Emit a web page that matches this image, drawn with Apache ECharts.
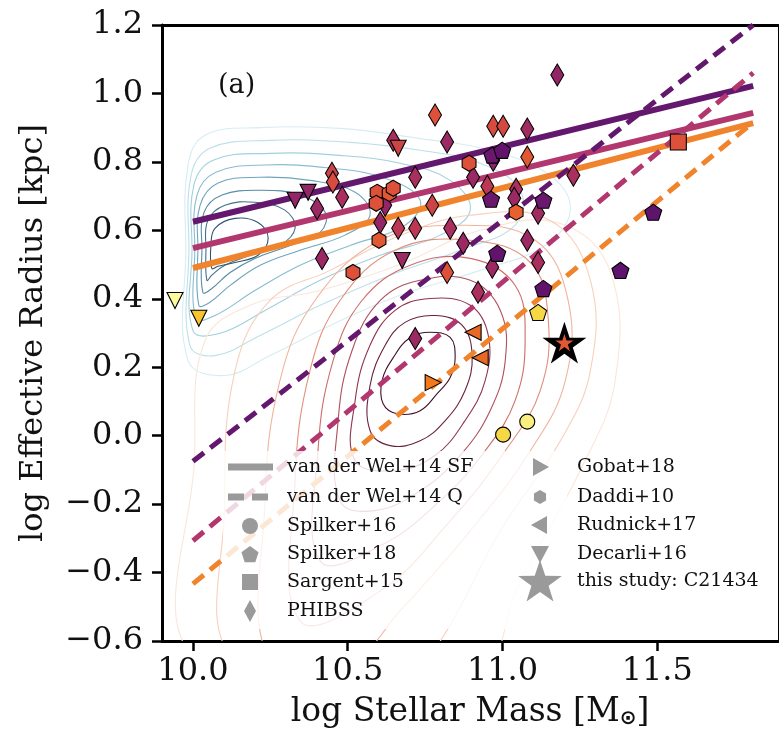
<!DOCTYPE html>
<html>
<head>
<meta charset="utf-8">
<script src="https://cdn.jsdelivr.net/npm/echarts@6/dist/echarts.min.js"></script>
<style>
html,body{margin:0;padding:0;background:#fff;}
#chart{width:779px;height:737px;}
</style>
</head>
<body>
<div id="chart"></div>
<script>
// ---- data ----
var xTicks = [10.0, 10.5, 11.0, 11.5];

// van der Wel+14 relations (end points)
var fitX = [10.0, 11.81];
var sfHigh = [0.625, 1.022];
var sfMid = [0.548, 0.943];
var sfLow = [0.49, 0.913];
var qHigh = [-0.075, 1.20];
var qMid = [-0.307, 1.06];
var qLow = [-0.433, 0.916];

// PHIBSS (diamonds)
var phibssX = [11.177,10.782,10.821,10.647,10.970,11.002,11.080,11.080,10.970,10.718,10.905,10.951,11.044,11.038,11.229,10.773,10.621,10.605,10.663,10.718,10.831,10.873,11.080,11.115,10.967,11.115,10.821,10.921,10.718,10.449,10.452,10.482,10.401,10.417];
var phibssY = [1.054,0.937,0.858,0.863,0.904,0.904,0.896,0.814,0.805,0.755,0.755,0.729,0.720,0.694,0.761,0.673,0.673,0.623,0.606,0.606,0.606,0.562,0.571,0.650,0.492,0.506,0.477,0.419,0.284,0.767,0.741,0.697,0.664,0.518];
var phibssZ = [0.40,0.60,0.42,0.45,0.58,0.57,0.43,0.62,0.38,0.45,0.42,0.50,0.45,0.42,0.45,0.55,0.40,0.40,0.50,0.50,0.45,0.42,0.42,0.43,0.42,0.45,0.60,0.45,0.42,0.55,0.58,0.45,0.42,0.42];

// Daddi+10 (hexagons)
var daddiX = [10.595,10.634,10.592,10.647,10.601,10.517,10.892,11.044];
var daddiY = [0.711,0.708,0.679,0.723,0.571,0.477,0.796,0.653];
var daddiZ = [0.60,0.62,0.60,0.60,0.62,0.60,0.60,0.64];

// Spilker+18 (pentagons)
var spilk18X = [10.967,10.999,10.963,11.132,10.983,11.132,11.381,11.487,11.115];
var spilk18Y = [0.820,0.834,0.691,0.688,0.533,0.430,0.483,0.653,0.360];
var spilk18Z = [0.30,0.28,0.30,0.30,0.28,0.28,0.27,0.27,0.90];

// Spilker+16 (circles)
var spilk16X = [11.08, 11.002];
var spilk16Y = [0.041, 0.003];
var spilk16Z = [0.96, 0.90];

var sargentX = [11.568], sargentY = [0.858], sargentZ = [0.60];
var gobatX = [10.776], gobatY = [0.155], gobatZ = [0.70];
var rudnickX = [10.905, 10.928], rudnickY = [0.302, 0.228], rudnickZ = [0.66, 0.66];
var decarliX = [9.942,10.019,10.330,10.372,10.663,10.676];
var decarliY = [0.395,0.343,0.688,0.711,0.840,0.512];
var decarliZ = [0.99,0.86,0.40,0.40,0.55,0.42];
var starX = [11.2], starY = [0.272], starZ = [0.62];

// density contours, star-forming (blue) outer -> inner
var blueContours = [
  [[9.984,0.22],[9.977,0.542],[9.984,0.79],[10.039,0.878],[10.217,0.90],[10.475,0.898],[10.734,0.868],[10.96,0.834],[11.154,0.76],[11.219,0.66],[11.138,0.556],[10.928,0.483],[10.669,0.41],[10.443,0.322],[10.249,0.234],[10.103,0.176]],
  [[9.99,0.264],[9.987,0.542],[9.994,0.761],[10.055,0.84],[10.249,0.863],[10.508,0.857],[10.734,0.834],[10.928,0.796],[11.057,0.717],[11.041,0.615],[10.863,0.542],[10.637,0.469],[10.411,0.381],[10.217,0.293],[10.071,0.234]],
  [[10.0,0.307],[9.997,0.542],[10.003,0.732],[10.065,0.805],[10.249,0.825],[10.475,0.819],[10.669,0.796],[10.831,0.746],[10.896,0.659],[10.799,0.586],[10.605,0.527],[10.411,0.454],[10.233,0.366],[10.087,0.299]],
  [[10.01,0.343],[10.006,0.542],[10.013,0.703],[10.074,0.77],[10.233,0.791],[10.443,0.782],[10.621,0.752],[10.734,0.688],[10.685,0.615],[10.508,0.556],[10.346,0.498],[10.2,0.424],[10.071,0.351]],
  [[10.019,0.381],[10.016,0.542],[10.023,0.673],[10.081,0.738],[10.217,0.755],[10.378,0.746],[10.524,0.711],[10.572,0.644],[10.491,0.586],[10.346,0.542],[10.217,0.498],[10.12,0.439],[10.055,0.39]],
  [[10.032,0.419],[10.029,0.542],[10.036,0.653],[10.094,0.703],[10.217,0.717],[10.346,0.703],[10.427,0.653],[10.411,0.594],[10.314,0.556],[10.2,0.518],[10.12,0.477],[10.061,0.43]],
  [[10.045,0.454],[10.042,0.542],[10.048,0.629],[10.103,0.673],[10.2,0.682],[10.297,0.659],[10.33,0.606],[10.281,0.556],[10.184,0.527],[10.103,0.498],[10.061,0.469]],
  [[10.061,0.489],[10.058,0.556],[10.071,0.606],[10.136,0.635],[10.21,0.623],[10.243,0.577],[10.21,0.527],[10.136,0.506],[10.081,0.495]]
];
// density contours, quiescent (red) outer -> inner
var redContours = [
  [[10.016,-0.66],[10.006,-0.044],[10.039,0.278],[10.184,0.381],[10.411,0.424],[10.669,0.5],[10.928,0.6],[11.187,0.62],[11.348,0.48],[11.364,0.161],[11.251,-0.102],[11.057,-0.424],[10.896,-0.72]],
  [[10.136,-0.66],[10.103,-0.19],[10.136,0.19],[10.249,0.395],[10.443,0.483],[10.669,0.585],[10.896,0.644],[11.154,0.629],[11.284,0.454],[11.284,0.19],[11.187,-0.015],[10.993,-0.278],[10.799,-0.60],[10.669,-0.72]],
  [[10.249,-0.66],[10.233,-0.19],[10.281,0.161],[10.394,0.395],[10.605,0.571],[10.863,0.615],[11.106,0.571],[11.212,0.395],[11.203,0.161],[11.09,-0.044],[10.896,-0.278],[10.669,-0.512],[10.508,-0.66]],
  [[10.346,-0.541],[10.33,-0.132],[10.378,0.19],[10.475,0.395],[10.653,0.542],[10.896,0.571],[11.09,0.506],[11.148,0.337],[11.122,0.132],[11.009,-0.044],[10.831,-0.249],[10.605,-0.454]],
  [[10.411,-0.366],[10.404,-0.044],[10.453,0.22],[10.546,0.395],[10.702,0.498],[10.896,0.518],[11.041,0.439],[11.073,0.278],[11.041,0.103],[10.944,-0.044],[10.799,-0.19],[10.605,-0.322]],
  [[10.475,-0.19],[10.469,0.044],[10.514,0.249],[10.605,0.395],[10.734,0.454],[10.896,0.454],[10.993,0.366],[11.009,0.22],[10.96,0.073],[10.863,-0.058],[10.734,-0.161],[10.588,-0.219]],
  [[10.524,-0.073],[10.524,0.103],[10.572,0.264],[10.653,0.366],[10.766,0.401],[10.896,0.381],[10.954,0.293],[10.944,0.161],[10.879,0.044],[10.782,-0.058],[10.653,-0.102]],
  [[10.572,0.015],[10.572,0.146],[10.621,0.264],[10.685,0.331],[10.782,0.351],[10.87,0.322],[10.902,0.234],[10.879,0.132],[10.815,0.044],[10.734,-0.015],[10.637,-0.029]],
  [[10.614,0.094],[10.611,0.161],[10.647,0.228],[10.702,0.287],[10.766,0.302],[10.831,0.287],[10.847,0.228],[10.831,0.17],[10.789,0.123],[10.734,0.073],[10.66,0.064]]
];

var legendCol1 = ['van der Wel+14 SF', 'van der Wel+14 Q', 'Spilker+16', 'Spilker+18', 'Sargent+15', 'PHIBSS'];
var legendCol2 = ['Gobat+18', 'Daddi+10', 'Rudnick+17', 'Decarli+16', 'this study: C21434'];

// ---- styles ----
var inferno = ['#000004','#160b39','#420a68','#6a176e','#932667','#bc3754','#dd513a','#f37819','#fca50a','#f6d746','#fcffa4'];
var blueColors = ['#d6edf3','#bde0ea','#a3d0de','#88bdd0','#6ea5bd','#568ca7','#40718d','#2c5670'];
var redColors = ['#fbe6da','#f7d0bc','#f0b49c','#e3917e','#cd6d6b','#b0505e','#8e3550','#6a2040','#3f0f2b'];
var SERIF = 'DejaVu Serif';
var PENTAGON = 'path://M50,0 L97.55,34.55 L79.39,90.45 L20.61,90.45 L2.45,34.55 Z';
var HEXAGON = 'path://M50,0 L93.3,25 L93.3,75 L50,100 L6.7,75 L6.7,25 Z';
var STAR = 'path://M50,0 L61.23,34.55 L97.55,34.55 L68.16,55.9 L79.39,90.45 L50,69.1 L20.61,90.45 L31.84,55.9 L2.45,34.55 L38.77,34.55 Z';

function pts(xs, ys, zs){
  return xs.map(function(x, i){ return [x, ys[i], zs ? zs[i] : 0]; });
}

function contourSeries(list, colors){
  return {
    type: 'custom', silent: true, clip: true, z: 1,
    data: list.map(function(c){ return [c[0][0], c[0][1]]; }),
    renderItem: function(params, api){
      var c = list[params.dataIndex];
      return {
        type: 'polygon',
        shape: { points: c.map(function(p){ return api.coord(p); }), smooth: 0.4 },
        style: { fill: 'none', stroke: colors[params.dataIndex], lineWidth: 1.1 }
      };
    }
  };
}

function fitLine(ys, color, dashed){
  return {
    type: 'line', silent: true, z: 2, symbol: 'none', showSymbol: false,
    data: [[fitX[0], ys[0]], [fitX[1], ys[1]]],
    lineStyle: { color: color, width: dashed ? 5 : 6, type: dashed ? [14, 8] : 'solid', cap: 'butt' }
  };
}

function scatter(data, symbol, size, rotate){
  return {
    type: 'scatter', silent: true, z: 3,
    data: data, symbol: symbol, symbolSize: size, symbolRotate: rotate || 0, symbolKeepAspect: true,
    itemStyle: { borderColor: '#000', borderWidth: 1.1, opacity: 1 }
  };
}

var series = [
  contourSeries(blueContours, blueColors),
  contourSeries(redContours, redColors),
  fitLine(sfHigh, '#63186e', false),
  fitLine(sfMid, '#b2376f', false),
  fitLine(sfLow, '#f0842c', false),
  fitLine(qHigh, '#63186e', true),
  fitLine(qMid, '#b2376f', true),
  fitLine(qLow, '#f0842c', true)
];
var firstScatter = series.length;
series.push(
  scatter(pts(phibssX, phibssY, phibssZ), 'diamond', [13, 22]),
  scatter(pts(daddiX, daddiY, daddiZ), HEXAGON, 16),
  scatter(pts(spilk18X, spilk18Y, spilk18Z), PENTAGON, 17),
  scatter(pts(spilk16X, spilk16Y, spilk16Z), 'circle', 15),
  scatter(pts(sargentX, sargentY, sargentZ), 'rect', 16),
  scatter(pts(gobatX, gobatY, gobatZ), 'triangle', 16, -90),
  scatter(pts(rudnickX, rudnickY, rudnickZ), 'triangle', 16, 90),
  scatter(pts(decarliX, decarliY, decarliZ), 'triangle', 16, 180)
);
var mappedIdx = [];
for (var i = firstScatter; i < series.length; i++) mappedIdx.push(i);
// this study: black star with coloured core
series.push({
  type: 'scatter', silent: true, z: 4, data: pts(starX, starY, starZ),
  symbol: STAR, symbolSize: 44, symbolKeepAspect: true, itemStyle: { color: '#000', opacity: 1 }
});
var core = scatter(pts(starX, starY, starZ), STAR, 18);
core.z = 5; core.itemStyle = { borderWidth: 0, opacity: 1 };
series.push(core);
mappedIdx.push(series.length - 1);

// ---- legend drawn as graphic ----
function regPoly(cx, cy, r, n){
  var p = [];
  for (var k = 0; k < n; k++){
    var a = -Math.PI / 2 + k * 2 * Math.PI / n;
    p.push([cx + r * Math.cos(a), cy + r * Math.sin(a)]);
  }
  return p;
}
function starPoly(cx, cy, R, r){
  var p = [];
  for (var k = 0; k < 10; k++){
    var a = -Math.PI / 2 + k * Math.PI / 5, rr = k % 2 ? r : R;
    p.push([cx + rr * Math.cos(a), cy + rr * Math.sin(a)]);
  }
  return p;
}
var G = '#9a9a9a';
var row1 = [467, 497, 526, 554, 582, 611];
var row2 = [467, 497, 525, 554, 581];
var c1 = 250, c2 = 540;
var gfx = [
  { type: 'rect', z: 100, shape: { x: 223, y: 451, width: 344, height: 178 }, style: { fill: 'rgba(255,255,255,0.8)' } },
  { type: 'line', z: 101, shape: { x1: 228, y1: row1[0], x2: 273, y2: row1[0] }, style: { stroke: G, lineWidth: 7 } },
  { type: 'line', z: 101, shape: { x1: 228, y1: row1[1], x2: 273, y2: row1[1] }, style: { stroke: G, lineWidth: 7, lineDash: [16, 8] } },
  { type: 'circle', z: 101, shape: { cx: c1, cy: row1[2], r: 8 }, style: { fill: G } },
  { type: 'polygon', z: 101, shape: { points: regPoly(c1, row1[3] + 1, 9, 5) }, style: { fill: G } },
  { type: 'rect', z: 101, shape: { x: c1 - 8, y: row1[4] - 8, width: 16, height: 16 }, style: { fill: G } },
  { type: 'polygon', z: 101, shape: { points: [[c1, row1[5] - 11], [c1 + 6, row1[5]], [c1, row1[5] + 11], [c1 - 6, row1[5]]] }, style: { fill: G } },
  { type: 'polygon', z: 101, shape: { points: [[c2 - 7, row2[0] - 9], [c2 + 9, row2[0]], [c2 - 7, row2[0] + 9]] }, style: { fill: G } },
  { type: 'polygon', z: 101, shape: { points: regPoly(c2, row2[1], 7, 6) }, style: { fill: G } },
  { type: 'polygon', z: 101, shape: { points: [[c2 + 7, row2[2] - 9], [c2 - 9, row2[2]], [c2 + 7, row2[2] + 9]] }, style: { fill: G } },
  { type: 'polygon', z: 101, shape: { points: [[c2 - 9, row2[3] - 8], [c2 + 9, row2[3] - 8], [c2, row2[3] + 9]] }, style: { fill: G } },
  { type: 'polygon', z: 101, shape: { points: starPoly(c2, row2[4] + 2, 23, 9) }, style: { fill: G } },
  { type: 'text', z: 101, left: 218, top: 72, style: { text: '(a)', fontFamily: SERIF, fontSize: 27, fill: '#111' } }
];
legendCol1.forEach(function(t, i){
  gfx.push({ type: 'text', z: 101, x: 287, y: row1[i], style: { text: t, fontFamily: SERIF, fontSize: 19, fill: '#111', verticalAlign: 'middle' } });
});
legendCol2.forEach(function(t, i){
  gfx.push({ type: 'text', z: 101, x: 577, y: row2[i], style: { text: t, fontFamily: SERIF, fontSize: 19, fill: '#111', verticalAlign: 'middle' } });
});

var chart = echarts.init(document.getElementById('chart'));
chart.setOption({
  animation: false,
  backgroundColor: '#fff',
  grid: { left: 162, right: 1, top: 25, bottom: 96, containLabel: false },
  visualMap: {
    type: 'continuous', show: false, dimension: 2, min: 0, max: 1,
    seriesIndex: mappedIdx, inRange: { color: inferno }
  },
  xAxis: [{
    type: 'value', min: 9.9, max: 11.89, position: 'bottom',
    axisLine: { onZero: false, lineStyle: { color: '#000', width: 3 } },
    axisTick: { customValues: xTicks, length: 10, lineStyle: { color: '#000', width: 2.5 } },
    axisLabel: { customValues: xTicks, formatter: function(v){ return v.toFixed(1); }, fontFamily: SERIF, fontSize: 32, color: '#111', margin: 15 },
    splitLine: { show: false },
    name: 'log Stellar Mass [M{sub|⊙}]', nameLocation: 'middle', nameGap: 55,
    nameTextStyle: { fontFamily: SERIF, fontSize: 33, color: '#111',
      rich: { sub: { fontFamily: 'DejaVu Sans', fontSize: 20, fontWeight: 'bold', color: '#111', verticalAlign: 'bottom', padding: [12, 0, 0, 0] } } }
  }, {
    type: 'value', min: 9.9, max: 11.89, position: 'top',
    axisLine: { onZero: false, lineStyle: { color: '#000', width: 3 } },
    axisTick: { show: false }, axisLabel: { show: false }, splitLine: { show: false }
  }],
  yAxis: [{
    type: 'value', min: -0.6, max: 1.2, interval: 0.2,
    axisLine: { onZero: false, lineStyle: { color: '#000', width: 3 } },
    axisTick: { length: 10, lineStyle: { color: '#000', width: 2.5 } },
    axisLabel: {
      formatter: function(v){ var r = Math.round(v * 10) / 10; return (r < 0 ? '\u2212' : '') + Math.abs(r).toFixed(1); },
      fontFamily: SERIF, fontSize: 32, color: '#111', margin: 19
    },
    splitLine: { show: false },
    name: 'log Effective Radius [kpc]', nameLocation: 'middle', nameGap: 112, nameRotate: 90,
    nameTextStyle: { fontFamily: SERIF, fontSize: 32, color: '#111' }
  }, {
    type: 'value', min: -0.6, max: 1.2, position: 'right',
    axisLine: { onZero: false, lineStyle: { color: '#000', width: 1 } },
    axisTick: { show: false }, axisLabel: { show: false }, splitLine: { show: false }
  }],
  graphic: gfx,
  series: series
});
</script>
</body>
</html>
